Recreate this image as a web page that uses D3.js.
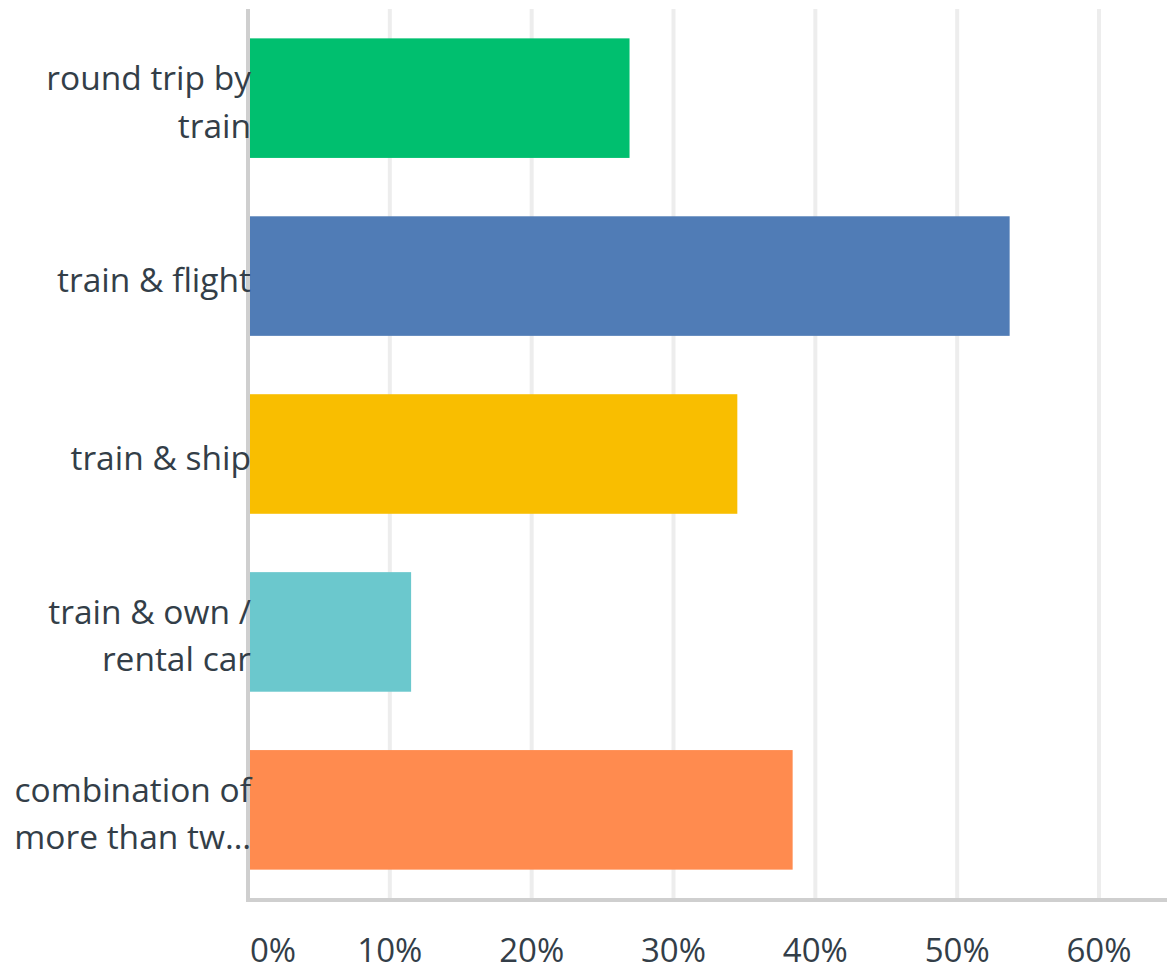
<!DOCTYPE html>
<html>
<head>
<meta charset="utf-8">
<script src="https://cdn.jsdelivr.net/npm/d3@7"></script>
<style>
  html, body { margin: 0; padding: 0; background: #fff; }
  svg { display: block; }
  text { font-family: "Open Sans", "Noto Sans", sans-serif; fill: #333e48; }
</style>
</head>
<body>
<svg id="chart" width="1167" height="972"></svg>
<script>
// ---- data ----
const categories = ["round trip by train", "train & flight", "train & ship", "train & own / rental car", "combination of more than two"];
const categoryLines = [["round trip by", "train"], ["train & flight"], ["train & ship"], ["train & own /", "rental car"], ["combination of", "more than tw\u2026"]];
const values = [26.9, 53.7, 34.5, 11.5, 38.4];
const colors = ["#00bf6f", "#507cb6", "#f9be00", "#6bc8cd", "#ff8b4f"];
const tickValues = [0, 10, 20, 30, 40, 50, 60];
const tickLabels = ["0%", "10%", "20%", "30%", "40%", "50%", "60%"];

// ---- layout ----
const svg = d3.select("#chart");
const plotTop = 9, plotBottom = 899;
const x = d3.scaleLinear().domain([0, 60]).range([248, 1099]);
const y = d3.scaleBand().domain(categories).range([plotTop, plotBottom]).paddingInner(0.328).paddingOuter(0.165);

// gridlines
svg.append("g").selectAll("line").data(tickValues.slice(1)).join("line")
  .attr("x1", d => x(d)).attr("x2", d => x(d))
  .attr("y1", plotTop).attr("y2", plotBottom)
  .attr("stroke", "#ededed").attr("stroke-width", 4);

// bars
svg.append("g").selectAll("rect").data(categories).join("rect")
  .attr("x", x(0))
  .attr("y", d => y(d))
  .attr("width", (d, i) => x(values[i]) - x(0))
  .attr("height", y.bandwidth())
  .attr("fill", (d, i) => colors[i]);

// axes lines
svg.append("line").attr("x1", 248).attr("x2", 248).attr("y1", plotTop).attr("y2", plotBottom + 3)
  .attr("stroke", "#cfcfcf").attr("stroke-width", 4);
svg.append("line").attr("x1", 246).attr("x2", 1167).attr("y1", plotBottom + 1).attr("y2", plotBottom + 1)
  .attr("stroke", "#cfcfcf").attr("stroke-width", 4);

// x tick labels
svg.append("g").selectAll("text").data(tickValues).join("text")
  .attr("x", (d, i) => i === 0 ? x(d) + 2 : x(d))
  .attr("y", 962)
  .attr("text-anchor", (d, i) => i === 0 ? "start" : "middle")
  .attr("font-size", 33)
  .text((d, i) => tickLabels[i]);

// category labels
const lineH = 47.5;
const lab = svg.append("g").selectAll("text").data(categories).join("text")
  .attr("text-anchor", "end")
  .attr("font-size", 33.5);
lab.each(function(d, i) {
  const lines = categoryLines[i];
  const cy = y(d) + y.bandwidth() / 2 + 15.7;
  const startY = cy - (lines.length - 1) * lineH / 2;
  d3.select(this).selectAll("tspan").data(lines).join("tspan")
    .attr("x", 251)
    .attr("y", (l, j) => startY + j * lineH)
    .text(l => l);
});
</script>
</body>
</html>
